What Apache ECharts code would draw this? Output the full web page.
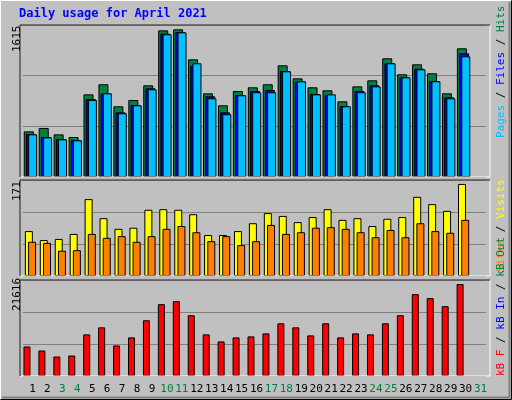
<!DOCTYPE html>
<html>
<head>
<meta charset="utf-8">
<script src="https://cdn.jsdelivr.net/npm/echarts@6/dist/echarts.min.js"></script>
<style>
  html, body { margin: 0; padding: 0; background: #c0c0c0; }
  #chart { width: 512px; height: 400px; }
</style>
</head>
<body>
<div id="chart"></div>
<script>
// Datos
const dias = ['1','2','3','4','5','6','7','8','9','10','11','12','13','14','15','16','17','18','19','20','21','22','23','24','25','26','27','28','29','30','31'];
const finesDeSemana = ['3','4','10','11','17','18','24','25','31'];

const hits  = [485,521,453,425,878,985,751,818,974,1558,1569,1250,889,762,914,953,985,1187,1048,953,921,804,963,1027,1261,1091,1197,1102,889,1367,null];
const files = [457,425,404,393,829,886,687,765,942,1523,1541,1183,857,687,871,914,924,1126,1013,882,868,754,914,974,1208,1059,1151,1017,847,1314,null];
const pages = [453,421,400,390,818,889,677,762,932,1516,1537,1208,836,666,868,900,900,1123,1017,878,878,751,900,963,1208,1059,1144,1017,836,1282,null];

const visits = [80,64,66,75,137,103,84,86,118,119,118,110,73,73,80,94,112,107,96,105,119,100,103,89,102,105,141,128,116,164,null];
const sites  = [61,59,45,46,75,68,71,61,71,84,89,78,62,71,55,62,91,75,78,86,87,84,78,69,82,69,94,80,77,100,null];

const kbF = [6651,5744,4384,4610,9372,10959,6878,8692,12546,16174,16854,13680,9372,7785,8692,8918,9599,11866,10959,9145,11866,8692,9599,9372,11866,13680,18442,17535,15721,20709,null];

// Maximos de cada panel (etiquetas del eje)
const maxHits = 1615;
const maxVisits = 171;
const maxKB = 21616;

const chart = echarts.init(document.getElementById('chart'));

// Paneles: [top, height]
const paneles = [[25, 152], [180, 96], [280, 96]];
const fuente = 'DejaVu Sans Mono';

function ejeX(i, mostrar) {
    return {
        type: 'category', gridIndex: i, data: dias,
        axisLine: { show: false }, axisTick: { show: false },
        axisLabel: {
            show: mostrar, interval: 0, margin: 8, fontFamily: fuente, fontSize: 11,
            padding: [0, 0, 0, 4],
            color: v => finesDeSemana.includes(v) ? '#008040' : '#000000'
        }
    };
}

function ejeY(i, max) {
    return {
        type: 'value', gridIndex: i, min: 0, max: max, interval: max / 3,
        axisLabel: { show: false }, axisLine: { show: false }, axisTick: { show: false },
        splitLine: { lineStyle: { color: '#808080', width: 1 } }
    };
}

function barra(nombre, datos, color, i, ancho, hueco) {
    return {
        type: 'bar', name: nombre, data: datos, xAxisIndex: i, yAxisIndex: i,
        barWidth: ancho, barGap: hueco, animation: false,
        itemStyle: { color: color, borderColor: '#000000', borderWidth: 1 }
    };
}

// Marcos de los paneles
const marcos = [];
paneles.forEach(p => {
    marcos.push({ type: 'rect', shape: { x: 20, y: p[0], width: 470, height: p[1] },
        style: { fill: null, stroke: '#ffffff', lineWidth: 1 }, z: 10 });
    marcos.push({ type: 'polyline', shape: { points: [[20, p[0] + p[1]], [20, p[0]], [490, p[0]]] },
        style: { stroke: '#000000', lineWidth: 1, fill: null }, z: 11 });
});

// Texto vertical que se lee de abajo hacia arriba, empezando en y
function textoVertical(x, y, texto, rich) {
    return { type: 'text', x: x, y: y, rotation: Math.PI / 2, z: 12,
        style: { text: texto, rich: rich, fontFamily: fuente, fontSize: 11, fill: '#000000',
            textAlign: 'left', textVerticalAlign: 'top' } };
}

function leyenda(y, partes) {
    const rich = {};
    let txt = '';
    partes.forEach((p, k) => {
        rich['c' + k] = { fill: p[1], fontFamily: fuente, fontSize: 11 };
        txt += '{c' + k + '|' + p[0] + '}';
    });
    return textoVertical(496, y, txt, rich);
}

const option = {
    backgroundColor: '#c0c0c0',
    animation: false,
    grid: paneles.map(p => ({ left: 23, right: 26, top: p[0], height: p[1] })),
    xAxis: [ejeX(0, false), ejeX(1, false), ejeX(2, true)],
    yAxis: [ejeY(0, maxHits), ejeY(1, maxVisits), ejeY(2, maxKB)],
    series: [
        barra('Hits', hits, '#008040', 0, 10, '-78%'),
        barra('Files', files, '#0000ff', 0, 10, '-78%'),
        barra('Pages', pages, '#00c0ff', 0, 9, '-78%'),
        barra('Visits', visits, '#ffff00', 1, 8, '-60%'),
        barra('Sites', sites, '#ff8000', 1, 8, '-60%'),
        barra('kB F', kbF, '#ff0000', 2, 7, '0%'),
        barra('kB In', [], '#0000ff', 2, 7, '0%')
    ],
    graphic: [
        // borde exterior 3D
        { type: 'polyline', shape: { points: [[0.5, 399.5], [0.5, 0.5], [511.5, 0.5]] },
          style: { stroke: '#ffffff', lineWidth: 1, fill: null } },
        { type: 'polyline', shape: { points: [[0.5, 399.5], [511.5, 399.5], [511.5, 0.5]] },
          style: { stroke: '#000000', lineWidth: 1, fill: null } },
        { type: 'polyline', shape: { points: [[2, 397.5], [509.5, 397.5], [509.5, 2]] },
          style: { stroke: '#808080', lineWidth: 2, fill: null } },
        { type: 'text', x: 19, y: 8, style: { text: 'Daily usage for April 2021',
            fontFamily: fuente, fontSize: 12, fontWeight: 'bold', fill: '#0000ff' } },
        ...marcos,
        textoVertical(12, 52, String(maxHits)),
        textoVertical(12, 201, String(maxVisits)),
        textoVertical(12, 311, String(maxKB)),
        leyenda(138, [['Pages', '#00c0ff'], [' / ', '#000000'], ['Files', '#0000ff'], [' / ', '#000000'], ['Hits', '#008040']]),
        leyenda(272, [['Sites', '#ff8000'], [' / ', '#000000'], ['Visits', '#ffff00']]),
        leyenda(376, [['kB F', '#ff0000'], [' / ', '#000000'], ['kB In', '#0000ff'], [' / ', '#000000'], ['kB Out', '#008040']])
    ]
};

chart.setOption(option);
</script>
</body>
</html>
